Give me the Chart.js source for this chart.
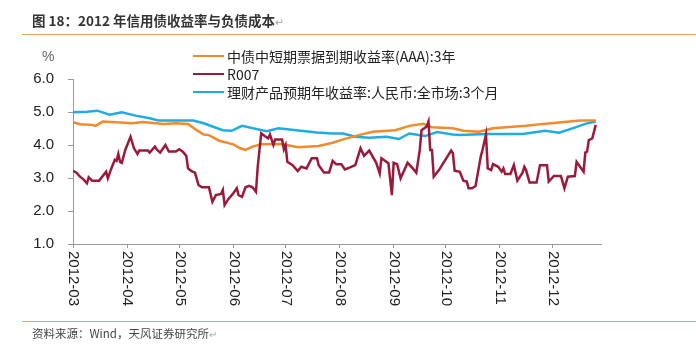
<!DOCTYPE html>
<html><head><meta charset="utf-8">
<script src="https://cdn.jsdelivr.net/npm/chart.js@4.4.1/dist/chart.umd.min.js"></script>
<style>
html,body{margin:0;padding:0;background:#fff;}
#wrap{position:relative;width:696px;height:356px;overflow:hidden;font-family:"Noto Sans CJK SC","Liberation Sans",sans-serif;}
#c{position:absolute;left:0;top:0;}
.title{position:absolute;left:32px;top:10px;font-size:13.5px;font-weight:bold;color:#333;white-space:nowrap;line-height:20px;}
.mark{font-weight:normal;color:#aaa;font-size:11px;}
.rule{position:absolute;left:22px;right:0;height:1px;background:#E3A15E;}
.foot{position:absolute;left:32px;top:325px;font-size:11.5px;color:#444;white-space:nowrap;line-height:16px;}
.unit{position:absolute;left:42px;top:48px;font-family:"Liberation Sans",Arial,sans-serif;font-size:14px;color:#666;}
#legend{position:absolute;left:193px;top:47px;}
.lrow{height:18px;display:flex;align-items:center;white-space:nowrap;font-size:14px;color:#222;}
.lline{width:31px;height:2.5px;margin-right:3px;}
</style></head>
<body>
<div id="wrap">
  <canvas id="c" width="696" height="356"></canvas>
  <div class="title">图 18：2012 年信用债收益率与负债成本<span class="mark">↵</span></div>
  <div class="rule" style="top:34px"></div>
  <div class="rule" style="top:321px"></div>
  <div class="foot">资料来源：Wind，天风证券研究所<span class="mark" style="font-size:10px">↵</span></div>
  <div class="unit">%</div>
  <div id="legend"></div>
</div>
<script>
// ---------------- data ----------------
const monthLabels = ["2012-03","2012-04","2012-05","2012-06","2012-07","2012-08","2012-09","2012-10","2012-11","2012-12"];
const monthStarts = ["03-01","04-01","05-01","06-01","07-01","08-01","09-01","10-01","11-01","12-01"];
const axisEnd = "12-29";

const seriesNames = ["中债中短期票据到期收益率(AAA):3年","R007","理财产品预期年收益率:人民币:全市场:3个月"];

const mtnDates = ["03-01","03-05","03-12","03-14","03-18","03-28","04-04","04-10","04-22","04-29","05-06","05-11","05-15","05-18","05-24","06-01","06-05","06-08","06-12","06-17","06-29","07-08","07-20","07-28","08-03","08-12","08-20","09-02","09-10","09-18","09-23","10-05","10-11","10-20","10-28","11-16","11-26","12-05","12-17","12-26"];
const mtnValues = [4.69,4.63,4.61,4.58,4.71,4.68,4.66,4.70,4.64,4.66,4.64,4.45,4.32,4.30,4.13,4.02,3.90,3.85,3.95,4.02,4.03,3.93,3.97,4.07,4.17,4.30,4.40,4.45,4.58,4.64,4.54,4.51,4.43,4.40,4.51,4.58,4.64,4.68,4.74,4.74];

const r007Dates = ["03-01","03-03","03-05","03-07","03-09","03-10","03-12","03-16","03-20","03-21","03-23","03-25","03-26","03-27","03-28","03-29","03-31","04-03","04-05","04-07","04-08","04-13","04-14","04-17","04-18","04-20","04-23","04-25","04-29","05-01","05-03","05-05","05-06","05-08","05-10","05-12","05-14","05-18","05-20","05-22","05-25","05-26","05-27","05-29","06-01","06-03","06-04","06-06","06-08","06-10","06-12","06-14","06-15","06-17","06-19","06-21","06-22","06-24","06-25","06-29","06-30","07-01","07-02","07-05","07-08","07-10","07-13","07-16","07-19","07-20","07-23","07-26","07-28","07-30","08-02","08-04","08-07","08-10","08-13","08-15","08-18","08-22","08-24","08-25","08-29","08-31","09-01","09-03","09-05","09-09","09-12","09-14","09-16","09-17","09-20","09-21","09-22","09-23","09-24","09-27","10-04","10-05","10-06","10-09","10-11","10-13","10-14","10-16","10-18","10-21","10-22","10-24","10-25","10-27","10-28","10-31","11-02","11-03","11-04","11-07","11-09","11-11","11-14","11-15","11-16","11-18","11-22","11-24","11-28","11-29","12-02","12-06","12-08","12-10","12-14","12-15","12-19","12-20","12-21","12-22","12-24","12-26"];
const r007Values = [3.22,3.16,3.04,2.96,2.84,3.02,2.92,2.92,3.19,2.99,3.29,3.55,3.52,3.73,3.49,3.46,3.85,4.25,3.90,3.73,3.83,3.83,3.77,3.95,3.87,3.77,4.00,3.80,3.80,3.87,3.80,3.67,3.29,3.21,3.16,2.79,2.72,2.72,2.28,2.48,2.52,2.64,2.18,2.35,2.54,2.69,2.48,2.43,2.72,2.76,2.72,2.58,3.34,4.35,4.27,4.20,4.32,4.00,4.17,4.17,3.87,4.00,3.49,3.39,3.21,3.34,3.29,3.60,3.60,3.39,3.17,3.17,3.52,3.42,3.42,3.26,3.32,3.39,3.90,3.67,3.83,3.46,3.14,3.60,3.45,2.48,3.46,3.42,2.99,3.46,3.29,3.16,3.85,4.45,4.56,4.71,3.85,3.85,3.04,3.24,3.83,3.75,3.22,3.19,2.92,2.89,2.69,2.69,2.76,3.65,3.85,4.32,3.29,3.24,3.42,3.34,3.19,3.29,3.12,3.12,3.39,2.92,3.16,3.34,3.24,2.86,2.86,3.39,3.39,2.89,3.06,3.06,2.69,3.04,3.06,3.49,3.19,3.77,3.80,4.15,4.20,4.61];

const wmpDates = ["03-01","03-09","03-15","03-22","03-29","04-06","04-14","04-19","05-09","05-15","05-20","05-26","05-31","06-06","06-20","06-27","07-07","07-19","07-28","08-03","08-10","08-18","08-28","09-04","09-10","09-19","09-26","10-05","10-09","10-24","11-14","11-27","12-05","12-13","12-20","12-26"];
const wmpValues = [4.99,5.01,5.04,4.92,4.99,4.89,4.81,4.74,4.74,4.66,4.56,4.45,4.43,4.58,4.42,4.51,4.45,4.38,4.35,4.35,4.25,4.22,4.25,4.18,4.35,4.27,4.39,4.32,4.30,4.33,4.33,4.43,4.37,4.51,4.64,4.71];

const yMin = 1, yMax = 6, yStep = 1;
const colors = ["#F08A2B","#9A1A3C","#1FACE2"];

// ---------------- helpers ----------------
const base = Date.UTC(2012, 2, 1);
function dayOf(md){ const [m,d] = md.split("-").map(Number); return (Date.UTC(2012, m-1, d) - base) / 86400000; }
function pts(dates, vals){ return dates.map((d,i)=>({x: dayOf(d), y: vals[i]})); }
const monthDays = monthStarts.map(dayOf);

const series = [[mtnDates, mtnValues],[r007Dates, r007Values],[wmpDates, wmpValues]];

// legend
const lg = document.getElementById('legend');
seriesNames.forEach((n,i)=>{
  const r = document.createElement('div'); r.className='lrow';
  const l = document.createElement('span'); l.className='lline'; l.style.background=colors[i];
  const t = document.createElement('span'); t.textContent = n;
  r.appendChild(l); r.appendChild(t); lg.appendChild(r);
});

const xLabelPlugin = {
  id: 'xLabels',
  afterDraw(chart){
    const s = chart.scales.x, ctx = chart.ctx;
    ctx.save();
    ctx.font = '15px "Liberation Sans", Arial, sans-serif';
    ctx.fillStyle = '#222';
    ctx.textAlign = 'left'; ctx.textBaseline = 'middle';
    monthDays.forEach((d,i)=>{
      const px = s.getPixelForValue(d);
      ctx.save(); ctx.translate(px + 0.5, s.top + 7); ctx.rotate(Math.PI/2);
      ctx.fillText(monthLabels[i], 0, 0); ctx.restore();
    });
    ctx.restore();
  }
};

new Chart(document.getElementById('c'), {
  type: 'line',
  data: {
    datasets: series.map((s,i)=>({
      label: seriesNames[i],
      data: pts(s[0], s[1]),
      borderColor: colors[i],
      backgroundColor: colors[i],
      borderWidth: 2.5,
      pointRadius: 0,
      tension: 0,
      fill: false,
      order: i === 1 ? 0 : 1
    }))
  },
  options: {
    responsive: false,
    animation: false,
    events: [],
    layout: { padding: { left: 0, top: 79, right: 95, bottom: 112 } },
    plugins: { legend: { display: false }, tooltip: { enabled: false } },
    scales: {
      x: {
        type: 'linear',
        min: 0,
        max: dayOf(axisEnd),
        afterBuildTicks: (sc) => { sc.ticks = monthDays.map(v=>({value:v})); },
        afterFit: (sc) => { sc.height = 0; },
        ticks: { display: false },
        border: { display: true, color: '#999', width: 1 },
        grid: { drawOnChartArea: false, drawTicks: true, tickLength: 4, color: '#999' }
      },
      y: {
        min: yMin, max: yMax,
        afterFit: (sc) => { sc.width = 73; },
        ticks: {
          stepSize: yStep,
          padding: 14,
          color: '#222',
          font: { family: '"Liberation Sans", Arial, sans-serif', size: 15 },
          callback: (v) => Number(v).toFixed(1)
        },
        border: { display: true, color: '#999', width: 1 },
        grid: { drawOnChartArea: false, drawTicks: true, tickLength: 5, color: '#999' }
      }
    }
  },
  plugins: [xLabelPlugin]
});
</script>
</body></html>
